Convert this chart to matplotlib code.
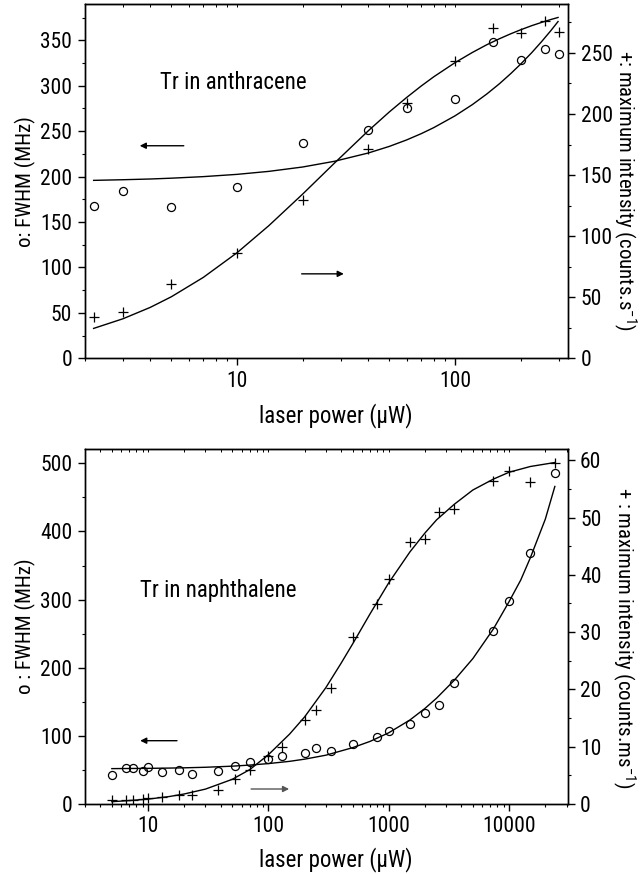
import matplotlib
matplotlib.use('Agg')
import matplotlib.pyplot as plt
from matplotlib.ticker import MultipleLocator, LogLocator, NullFormatter, FuncFormatter

# ---------------- data: Tr in anthracene ----------------
anth_power = [2.2, 3, 5, 10, 20, 40, 60, 100, 150, 200, 260, 300]
anth_fwhm = [168, 184, 167, 189, 237, 251, 276, 285, 348, 328, 340, 335]
anth_intensity = [34, 38, 61, 86, 130, 171, 209, 243, 270, 266, 276, 267]

anth_fit_power = [2.2, 3, 4, 5, 7, 10, 14, 20, 28, 40, 50, 60, 70, 80, 100, 120, 140,
                  160, 180, 200, 225, 250, 275, 297]
anth_fit_fwhm = [195.9, 196.6, 197.4, 198.3, 200.0, 202.5, 205.8, 210.6, 216.9, 226.0,
                 233.3, 240.4, 247.3, 254.0, 266.9, 279.2, 291.0, 302.3, 313.3, 323.8,
                 336.5, 348.8, 360.6, 370.7]
anth_fit_intensity = [24.5, 32.4, 41.7, 50.4, 66.2, 86.4, 108.6, 134.4, 159.8, 186.2,
                      201.7, 213.5, 222.9, 230.5, 242.0, 250.3, 256.7, 261.6, 265.6,
                      268.9, 272.3, 275.0, 277.3, 279.0]

# ---------------- data: Tr in naphthalene ----------------
naph_power = [5, 6.5, 7.5, 9, 10, 13, 18, 23, 38, 53, 70, 100, 130, 200, 250, 330,
              500, 800, 1000, 1500, 2000, 2600, 3500, 7400, 10000, 15000, 24000]
naph_fwhm = [42.6, 52.3, 53.3, 48.4, 54.8, 46.5, 49.4, 44.5, 48.9, 56.3, 62.1, 65.6, 70.5,
             75.3, 81.7, 78.3, 87.6, 98.8, 107.1, 117.4, 133, 145.3, 178, 254.4, 298.4,
             367.9, 486.3]
naph_intensity = [0.7, 0.7, 0.7, 0.9, 1.0, 1.3, 1.6, 1.6, 2.4, 4.3, 5.9, 8.4, 9.9, 14.7,
                  16.4, 20.3, 29.1, 34.9, 39.3, 45.8, 46.2, 51.0, 51.4, 56.4, 58.2, 56.2, 59.5]

naph_fit_fwhm_power = [5, 7, 10, 15, 20, 30, 50, 70, 100, 150, 200, 300, 500, 700, 1000,
                       1500, 2000, 2500, 3500, 5000, 7400, 10000, 12500, 15000, 20000, 24000]
naph_fit_fwhm = [51.9, 52.1, 52.3, 52.7, 53.1, 53.9, 55.5, 57.1, 59.3, 62.6, 65.8, 71.6,
                 82.6, 91.9, 104.5, 123.3, 140.3, 155.4, 181.5, 213.4, 256.8, 297.0,
                 328.7, 361.1, 418.0, 466.0]

naph_fit_int_power = [5, 7, 10, 15, 20, 30, 50, 70, 100, 150, 200, 300, 400, 500, 700,
                      1000, 1500, 2000, 2500, 3500, 5000, 7400, 10000, 15000, 24000]
naph_fit_intensity = [0.4, 0.6, 0.85, 1.3, 1.75, 2.6, 4.3, 6.0, 8.6, 12.2, 15.2, 20.3,
                      24.5, 27.9, 33.2, 38.6, 44.0, 47.3, 49.6, 52.3, 54.8, 56.7, 57.9,
                      58.9, 59.6]

plt.rcParams['font.family'] = ['Roboto Condensed', 'Liberation Sans', 'DejaVu Sans']
plt.rcParams['mathtext.fontset'] = 'custom'
plt.rcParams['mathtext.rm'] = 'Roboto Condensed'
plt.rcParams['mathtext.default'] = 'regular'
FS_TICK = 15.5
FS_YLAB = 15
FS_XLAB = 16.5
FS_TXT = 16.5

fig = plt.figure(figsize=(6.41, 8.74), dpi=100)
ax1 = fig.add_axes([0.132, 0.590, 0.7546, 0.4054])
ax2 = fig.add_axes([0.132, 0.0801, 0.7534, 0.4058])

int_fmt = FuncFormatter(lambda v, p: f"{v:g}")


def style(ax, axr, xlim, ylim, yrlim, ymaj, yrmaj):
    ax.set_xscale('log')
    ax.set_xlim(*xlim)
    ax.set_ylim(*ylim)
    axr.set_ylim(*yrlim)
    ax.xaxis.set_major_locator(LogLocator(base=10, numticks=10))
    ax.xaxis.set_minor_locator(LogLocator(base=10, subs=range(2, 10), numticks=20))
    ax.xaxis.set_major_formatter(FuncFormatter(lambda v, p: f"{v:.0f}"))
    ax.xaxis.set_minor_formatter(NullFormatter())
    ax.yaxis.set_major_locator(MultipleLocator(ymaj))
    ax.yaxis.set_minor_locator(MultipleLocator(ymaj / 2))
    axr.yaxis.set_major_locator(MultipleLocator(yrmaj))
    axr.yaxis.set_minor_locator(MultipleLocator(yrmaj / 2))
    ax.yaxis.set_major_formatter(int_fmt)
    axr.yaxis.set_major_formatter(int_fmt)
    for a in (ax, axr):
        a.tick_params(which='major', direction='out', length=5, width=1, labelsize=FS_TICK, pad=4)
        a.tick_params(which='minor', direction='out', length=2.5, width=0.8)
        for s in a.spines.values():
            s.set_linewidth(1.0)
    ax.tick_params(axis='x', which='both', top=False)
    sec = ax.secondary_xaxis('top')
    sec.tick_params(which='both', direction='in', length=2, width=0.7, labeltop=False)
    sec.xaxis.set_major_locator(LogLocator(base=10, numticks=10))
    sec.xaxis.set_minor_locator(LogLocator(base=10, subs=range(2, 10), numticks=20))
    sec.xaxis.set_major_formatter(NullFormatter())
    sec.xaxis.set_minor_formatter(NullFormatter())


lw = 1.0
arrow_kw = dict(arrowstyle='-|>', lw=1, mutation_scale=9, shrinkA=0, shrinkB=0)
# ---------------- top panel ----------------
ax1r = ax1.twinx()
style(ax1, ax1r, (2.0, 331), (0, 390), (0, 290), 50, 50)
ax1.plot(anth_fit_power, anth_fit_fwhm, color='k', lw=lw)
ax1r.plot(anth_fit_power, anth_fit_intensity, color='k', lw=lw)
ax1.plot(anth_power, anth_fwhm, linestyle='none', marker='o', ms=5.8, mfc='none', mec='k', mew=0.9)
ax1r.plot(anth_power, anth_intensity, linestyle='none', marker='+', ms=6.5, mec='k', mew=0.9)
ax1.text(0.156, 0.760, 'Tr in anthracene', transform=ax1.transAxes, fontsize=FS_TXT,
         ha='left', va='baseline')
ax1.annotate('', xy=(3.58, 234), xytext=(5.7, 234), arrowprops=dict(color='k', **arrow_kw))
ax1.annotate('', xy=(30.9, 93), xytext=(19.8, 93), arrowprops=dict(color='k', **arrow_kw))
ax1.set_ylabel('o: FWHM (MHz)', fontsize=FS_YLAB)
ax1.yaxis.set_label_coords(-0.10, 0.5)
ax1r.set_ylabel('+: maximum intensity (counts.s$^{-1}$)', fontsize=FS_YLAB, rotation=270, va='bottom')
ax1r.yaxis.set_label_coords(1.088, 0.475)
ax1.set_xlabel('laser power (\u03bcW)', fontsize=FS_XLAB)
ax1.xaxis.set_label_coords(0.52, -0.127)

# ---------------- bottom panel ----------------
ax2r = ax2.twinx()
style(ax2, ax2r, (2.97, 30600), (0, 520.5), (0, 61.9), 100, 10)
ax2.plot(naph_fit_fwhm_power, naph_fit_fwhm, color='k', lw=lw)
ax2r.plot(naph_fit_int_power, naph_fit_intensity, color='k', lw=lw)
ax2.plot(naph_power, naph_fwhm, linestyle='none', marker='o', ms=5.8, mfc='none', mec='k', mew=0.9)
ax2r.plot(naph_power, naph_intensity, linestyle='none', marker='+', ms=6.5, mec='k', mew=0.9)
ax2.text(0.115, 0.584, 'Tr in naphthalene', transform=ax2.transAxes, fontsize=FS_TXT,
         ha='left', va='baseline')
ax2.annotate('', xy=(8.6, 92.9), xytext=(17.4, 92.9), arrowprops=dict(color='k', **arrow_kw))
ax2.annotate('', xy=(148.6, 22), xytext=(71.8, 22),
             arrowprops=dict(color='#555555', **arrow_kw))
ax2.set_ylabel('o : FWHM (MHz)', fontsize=FS_YLAB)
ax2.yaxis.set_label_coords(-0.10, 0.5)
ax2r.set_ylabel('+ : maximum intensity (counts.ms$^{-1}$)', fontsize=FS_YLAB, rotation=270, va='bottom')
ax2r.yaxis.set_label_coords(1.088, 0.47)
ax2.set_xlabel('laser power (\u03bcW)', fontsize=FS_XLAB)
ax2.xaxis.set_label_coords(0.52, -0.122)

fig.savefig('out.png', dpi=100)
